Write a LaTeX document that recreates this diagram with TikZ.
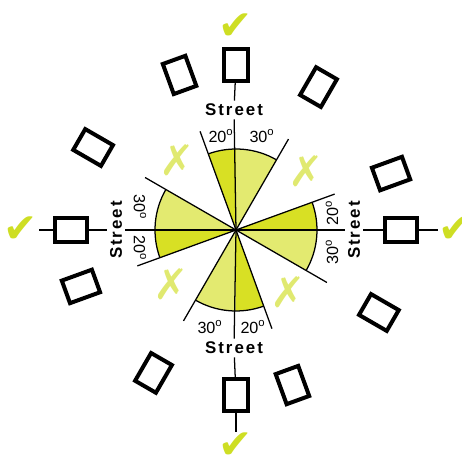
\documentclass[tikz,border=0pt]{standalone}
\usepackage{fontspec}
\setsansfont{Liberation Sans}
\newfontfamily\symfont{DejaVu Sans}
\newfontfamily\streetfont[LetterSpace=12]{Liberation Sans}
\usepackage{tikz}
\usetikzlibrary{positioning}
\definecolor{darkyellow}{RGB}{216,224,36}
\definecolor{lightyellow}{RGB}{227,234,112}
\definecolor{okgreen}{RGB}{206,222,36}
\definecolor{nogogreen}{RGB}{224,233,112}
\tikzset{
  car/.style={draw, line width=0.1cm, minimum width=0.6cm, minimum height=0.8cm, inner sep=0pt},
  street/.style={font=\streetfont\bfseries\fontsize{12}{12}\selectfont, inner sep=2pt},
  degree/.style={font=\sffamily\fontsize{11.5}{11.5}\selectfont, inner sep=0pt},
  ok/.style={text=okgreen, font=\symfont\fontsize{29}{29}\selectfont, inner sep=0pt},
  nogo/.style={text=nogogreen, font=\symfont\fontsize{30}{30}\selectfont, inner sep=0pt}
}

\begin{document}
\begin{tikzpicture}[x=0.025cm, y=0.025cm, line width=0.9pt]
    \useasboundingbox (-236,-228) rectangle (226,230);
    \coordinate (O) at (0,0);
    \foreach \d in {0,90,180,270} {
      \fill[darkyellow] (O) -- (\d:81) arc[start angle=\d, delta angle=20, radius=81] -- cycle;
      \fill[lightyellow] (O) -- ({\d-30}:81) arc[start angle=\d-30, delta angle=30, radius=81] -- cycle;
      \draw ({\d-30}:81) arc[start angle=\d-30, end angle=\d+20, radius=81];
      \coordinate (l\d) at ({\d+20}:105);
      \coordinate (r\d) at ({\d-30}:105);
      \draw (O) -- (l\d);
      \draw (O) -- (r\d);
    }
    \node[street] (stN) at (-2,120) {Street};
    \node[street, rotate=90] (stE) at (118,0) {Street};
    \node[street] (stS) at (-2,-118) {Street};
    \node[street, rotate=90] (stW) at (-120,0) {Street};
    \node[car] (carN) at (90:165) {};
    \node[car, rotate=90] (carE) at (0:165) {};
    \node[car] (carS) at (270:165) {};
    \node[car, rotate=90] (carW) at (180:165) {};
    \foreach \a [evaluate=\a as \r using \a-90] in {110,60,20,-30,290,240,200,150}
      \node[car, rotate=\r] (car\a) at (\a:165) {};
    \node[ok] (okN) at (90:203) {✔};
    \node[ok] (okE) at (0:220) {✔};
    \node[ok] (okS) at (270:216) {✔};
    \node[ok] (okW) at (180:215) {✔};
    \foreach \s in {N,E,S,W} {
      \draw (O) -- (st\s);
      \draw (st\s) -- (car\s);
    }
    \foreach \s in {E,S,W}
      \draw (car\s) -- (ok\s);
    \node[degree] (dN1) at (-15,94) {20\textsuperscript{o}};
    \node[degree] (dN2) at (26,94) {30\textsuperscript{o}};
    \node[degree] (dS1) at (-26,-97) {30\textsuperscript{o}};
    \node[degree] (dS2) at (17,-97) {20\textsuperscript{o}};
    \node[degree, rotate=-90] (dW1) at (-96,23) {30\textsuperscript{o}};
    \node[degree, rotate=-90] (dW2) at (-96,-18) {20\textsuperscript{o}};
    \node[degree, rotate=90] (dE1) at (96,17) {20\textsuperscript{o}};
    \node[degree, rotate=90] (dE2) at (96,-22) {30\textsuperscript{o}};
    \node[nogo] (xNW) at (130:91) {✗};
    \node[nogo] (xNE) at (40:92) {✗};
    \node[nogo] (xSW) at (220:84) {✗};
    \node[nogo] (xSE) at (310:81) {✗};
  \end{tikzpicture}
\end{document}
